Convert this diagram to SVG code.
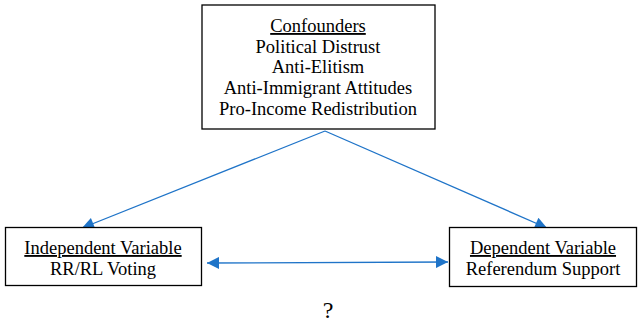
<svg xmlns="http://www.w3.org/2000/svg" width="639" height="325" viewBox="0 0 639 325">
<defs>
<marker id="ah" viewBox="0 0 10 10" refX="10" refY="5" markerWidth="15" markerHeight="12" markerUnits="userSpaceOnUse" orient="auto-start-reverse">
<path d="M0,0 L10,5 L0,10 z" fill="#1f74c8"/>
</marker>
<style>
.box{fill:#fff;stroke:#000;stroke-width:1.3}
.t{font-family:'Liberation Serif','Times New Roman',Times,serif;font-size:18.5px;fill:#000;text-anchor:middle}
.u{text-decoration:underline}
.c{stroke:#1f74c8;stroke-width:1.3;fill:none}
</style>
</defs>
<rect width="639" height="325" fill="#fff"/>
<g id="connectors">
<line class="c" x1="325" y1="131" x2="82" y2="228" marker-end="url(#ah)"/>
<line class="c" x1="325" y1="131" x2="547" y2="228" marker-end="url(#ah)"/>
<line class="c" x1="207" y1="263" x2="448" y2="262" marker-start="url(#ah)" marker-end="url(#ah)"/>
</g>
<g id="confounders">
<rect class="box" x="202" y="5" width="233" height="124"/>
<text class="t u" x="318" y="32">Confounders</text>
<text class="t" x="318" y="52.5">Political Distrust</text>
<text class="t" x="318" y="73">Anti-Elitism</text>
<text class="t" x="318" y="94">Anti-Immigrant Attitudes</text>
<text class="t" x="318" y="115">Pro-Income Redistribution</text>
</g>
<g id="independent">
<rect class="box" x="5.5" y="227.5" width="196" height="58"/>
<text class="t u" x="103" y="254">Independent Variable</text>
<text class="t" x="103" y="275">RR/RL Voting</text>
</g>
<g id="dependent">
<rect class="box" x="449.5" y="227.5" width="187" height="59"/>
<text class="t u" x="543" y="254">Dependent Variable</text>
<text class="t" x="543" y="275">Referendum Support</text>
</g>
<text class="t" x="328" y="318" style="font-size:24px">?</text>
</svg>
